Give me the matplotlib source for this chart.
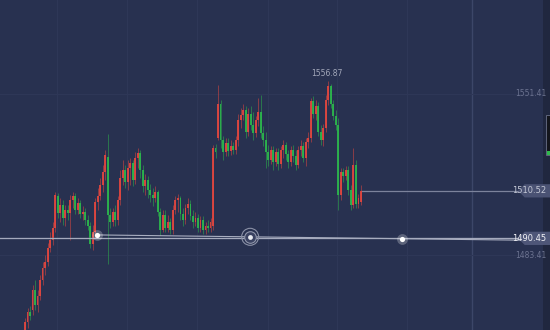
import matplotlib.pyplot as plt
from matplotlib.patches import Polygon, Rectangle
import numpy as np

# candle data (price), one entry per bar
opens = [1451.7, 1455.1, 1459.3, 1460.2, 1468.6, 1462.3, 1466.1, 1472.9, 1477.9, 1480.5,
         1486.4, 1489.8, 1494.8, 1508.3, 1501.1, 1504.5, 1499.0, 1502.4, 1501.1, 1506.6,
         1508.3, 1502.4, 1505.4, 1500.7, 1501.6, 1498.2, 1495.7, 1488.1, 1493.1, 1505.8,
         1508.3, 1513.0, 1518.5, 1524.8, 1500.3, 1497.4, 1501.6, 1498.2, 1506.6, 1515.9,
         1519.3, 1514.2, 1520.2, 1522.3, 1515.1, 1524.4, 1526.5, 1519.3, 1512.5, 1515.1,
         1510.9, 1508.8, 1507.5, 1510.0, 1501.6, 1494.0, 1500.3, 1494.8, 1497.4, 1494.0,
         1502.4, 1506.6, 1507.5, 1500.7, 1498.2, 1503.3, 1504.9, 1499.9, 1497.4, 1499.0,
         1494.8, 1498.2, 1494.0, 1495.7, 1494.8, 1495.7, 1528.6, 1532.8, 1547.2, 1532.0,
         1526.9, 1530.7, 1527.3, 1529.5, 1527.8, 1532.0, 1540.4, 1542.5, 1544.6, 1535.4,
         1543.0, 1538.3, 1534.9, 1540.4, 1543.8, 1534.9, 1532.0, 1526.9, 1523.5, 1527.8,
         1522.7, 1526.9, 1521.9, 1527.8, 1529.9, 1526.1, 1522.7, 1527.8, 1525.2, 1521.4,
         1527.8, 1529.5, 1524.4, 1531.1, 1532.8, 1548.5, 1543.0, 1546.3, 1535.4, 1532.0,
         1537.0, 1548.9, 1554.8, 1547.2, 1542.1, 1538.3, 1508.8, 1518.5, 1516.8, 1519.3,
         1510.9, 1504.5, 1521.4, 1504.9, 1505.8]
highs = [1456.8, 1461.0, 1461.9, 1470.7, 1472.9, 1468.6, 1475.0, 1480.5, 1483.4, 1488.5,
         1493.1, 1497.4, 1510.0, 1509.6, 1507.5, 1506.6, 1504.5, 1504.5, 1508.8, 1510.0,
         1509.6, 1507.5, 1506.6, 1504.1, 1503.3, 1500.3, 1497.4, 1496.1, 1507.5, 1511.7,
         1515.9, 1521.4, 1527.8, 1534.5, 1503.3, 1503.3, 1504.5, 1508.3, 1519.3, 1523.5,
         1521.4, 1523.5, 1524.4, 1523.5, 1526.9, 1528.6, 1527.8, 1521.4, 1517.6, 1516.8,
         1513.4, 1511.7, 1512.5, 1510.9, 1503.3, 1502.4, 1502.4, 1500.3, 1499.0, 1504.5,
         1508.3, 1509.2, 1508.3, 1503.3, 1504.9, 1507.5, 1506.6, 1502.4, 1501.6, 1500.7,
         1499.9, 1499.9, 1497.4, 1498.2, 1499.0, 1529.9, 1530.3, 1555.2, 1548.9, 1533.7,
         1532.8, 1532.8, 1532.0, 1531.1, 1533.7, 1542.9, 1545.5, 1547.2, 1546.3, 1545.5,
         1546.3, 1543.8, 1542.1, 1549.7, 1551.0, 1537.9, 1535.4, 1529.9, 1529.5, 1529.5,
         1528.6, 1528.6, 1529.5, 1532.0, 1531.1, 1527.8, 1529.5, 1529.9, 1527.8, 1529.5,
         1532.0, 1531.1, 1532.8, 1535.4, 1549.7, 1550.6, 1548.9, 1548.0, 1538.3, 1538.7,
         1551.0, 1556.87, 1555.6, 1548.9, 1544.6, 1541.3, 1520.2, 1520.2, 1521.0, 1521.0,
         1513.0, 1528.6, 1523.5, 1509.2, 1513.0]
lows = [1449.6, 1452.6, 1456.0, 1458.1, 1460.2, 1459.3, 1464.4, 1470.7, 1475.0, 1478.8,
        1484.7, 1487.6, 1493.1, 1499.0, 1497.4, 1496.1, 1495.7, 1498.2, 1489.8, 1503.3,
        1500.7, 1500.7, 1499.0, 1498.2, 1496.1, 1494.0, 1486.4, 1485.5, 1490.6, 1502.4,
        1506.6, 1510.0, 1515.1, 1479.6, 1494.8, 1495.7, 1495.7, 1496.1, 1504.5, 1513.0,
        1511.7, 1510.9, 1513.0, 1512.5, 1513.4, 1520.2, 1515.9, 1510.0, 1508.8, 1507.5,
        1505.8, 1504.1, 1505.8, 1499.9, 1491.9, 1493.1, 1493.1, 1493.1, 1492.3, 1492.3,
        1500.7, 1501.6, 1498.2, 1495.7, 1496.5, 1500.7, 1498.2, 1494.8, 1495.7, 1493.1,
        1493.1, 1492.3, 1492.3, 1493.1, 1493.1, 1494.0, 1524.4, 1532.0, 1528.6, 1523.5,
        1525.2, 1525.2, 1525.6, 1526.1, 1526.1, 1529.5, 1537.0, 1540.4, 1532.8, 1533.7,
        1536.2, 1532.0, 1533.2, 1537.9, 1532.8, 1529.5, 1520.2, 1521.0, 1521.9, 1519.3,
        1521.0, 1519.3, 1520.2, 1524.4, 1523.5, 1520.2, 1521.0, 1522.7, 1519.3, 1520.2,
        1525.2, 1522.7, 1521.0, 1528.6, 1531.1, 1541.3, 1540.4, 1533.7, 1529.9, 1529.5,
        1535.4, 1546.8, 1545.5, 1540.4, 1536.2, 1502.4, 1506.6, 1514.2, 1515.1, 1508.8,
        1502.4, 1503.3, 1503.3, 1503.3, 1504.5]
closes = [1455.1, 1459.3, 1457.6, 1468.6, 1462.3, 1466.1, 1472.9, 1477.9, 1480.5, 1486.4,
          1489.8, 1494.8, 1508.8, 1501.1, 1504.5, 1499.0, 1502.4, 1501.1, 1506.6, 1508.3,
          1502.4, 1505.4, 1500.7, 1501.6, 1498.2, 1495.7, 1488.1, 1493.1, 1505.8, 1508.3,
          1513.0, 1518.5, 1525.6, 1500.3, 1497.4, 1501.6, 1498.2, 1506.6, 1515.9, 1519.3,
          1514.2, 1520.2, 1522.3, 1515.1, 1524.4, 1526.5, 1519.3, 1512.5, 1515.1, 1510.9,
          1508.8, 1507.5, 1510.0, 1501.6, 1494.0, 1500.3, 1494.8, 1497.4, 1494.0, 1502.4,
          1506.6, 1507.5, 1500.7, 1498.2, 1503.3, 1504.9, 1499.9, 1497.4, 1499.0, 1494.8,
          1498.2, 1494.0, 1495.7, 1494.8, 1497.4, 1528.6, 1526.9, 1547.2, 1532.0, 1526.9,
          1530.7, 1527.3, 1529.5, 1527.8, 1532.0, 1540.4, 1542.5, 1544.6, 1535.4, 1543.0,
          1538.3, 1534.9, 1540.4, 1543.8, 1534.9, 1532.0, 1526.9, 1523.5, 1527.8, 1522.7,
          1526.9, 1521.9, 1527.8, 1529.9, 1526.1, 1522.7, 1527.8, 1525.2, 1521.4, 1527.8,
          1529.5, 1524.4, 1531.1, 1532.8, 1548.5, 1543.0, 1546.3, 1535.4, 1532.0, 1537.0,
          1548.9, 1554.8, 1547.2, 1542.1, 1538.3, 1508.8, 1518.5, 1516.8, 1519.3, 1510.9,
          1504.5, 1521.4, 1504.9, 1507.5, 1510.52]

last_price = 1510.52
line_price = 1490.45
grid_prices = [1551.41, 1483.41]
high_label = 1556.87
# trend line anchors (bar index, price)
trend_x = [28.7, 89.8, 150.4]
trend_y = [1491.9, 1491.1, 1490.3]

bg = '#283150'
up_c = '#e5473f'
down_c = '#2cb84c'

fig = plt.figure(figsize=(5.5, 3.3), dpi=100)
fig.patch.set_facecolor(bg)
ax = fig.add_axes([0, 0, 1, 1])
ax.set_facecolor(bg)
ax.set_xlim(-9.97, 209.4)
ax.set_ylim(1451.75, 1591.1)
ax.axis('off')

fam = ['Liberation Sans Narrow', 'DejaVu Sans']

# grid
for gx in [57, 127, 197, 268, 337, 407]:
    ax.axvline(-9.97 + gx / 550 * 219.37, color='#2e3757', lw=0.8, zorder=0)
ax.axvline(-9.97 + 472 / 550 * 219.37, color='#3c4668', lw=1.0, zorder=0)
for gp in grid_prices:
    ax.axhline(gp, color='#2e3757', lw=0.8, zorder=0)

# right shadow
ax.add_patch(Rectangle((0.988, 0), 0.012, 1, transform=ax.transAxes,
                       color='#20273f', lw=0, zorder=0))

o = np.array(opens)
h = np.array(highs)
l = np.array(lows)
c = np.array(closes)
x = np.arange(len(c))
cols = [up_c if cc >= oo else down_c for oo, cc in zip(o, c)]
ax.vlines(x, l, h, colors=cols, lw=0.6, alpha=0.6, zorder=2)
body = np.abs(c - o)
body = np.where(body < 0.6, 0.6, body)
ax.bar(x, body, bottom=np.minimum(o, c), width=0.75, color=cols, alpha=0.9,
       lw=0, zorder=3)

# last price line
ax.plot([len(c) - 0.6, 197.5], [last_price, last_price], color='#7c839c', lw=0.9, zorder=2)

# horizontal line and trend line
ax.axhline(line_price, color='#6f7690', lw=1.8, alpha=0.35, zorder=4)
ax.axhline(line_price, color='#a9aec0', lw=0.7, zorder=4)
slope = (trend_y[-1] - trend_y[0]) / (trend_x[-1] - trend_x[0])
ax.plot([trend_x[0], 209.4], [trend_y[0], trend_y[0] + slope * (209.4 - trend_x[0])],
        color='#a9aec0', lw=0.8, zorder=4)
ax.scatter([trend_x[0], trend_x[2]], [trend_y[0], trend_y[2]], s=60, color='white',
           alpha=0.25, lw=0, zorder=5)
ax.scatter([trend_x[0], trend_x[2]], [trend_y[0], trend_y[2]], s=14, color='white',
           lw=0, zorder=6)
ax.scatter([trend_x[1]], [trend_y[1]], s=150, facecolor='none', edgecolor='#8a90a6',
           lw=0.8, zorder=5)
ax.scatter([trend_x[1]], [trend_y[1]], s=70, facecolor='#3a4262', edgecolor='#9096ab',
           lw=0.8, zorder=5)
ax.scatter([trend_x[1]], [trend_y[1]], s=12, color='#e8eaf0', lw=0, zorder=6)

# high label
ih = int(np.argmax(h))
ax.text(ih - 0.5, high_label + 1.1, '%.2f' % high_label, color='#a3a8ba', fontsize=5.5,
        family=fam, ha='center', va='bottom', zorder=6)

# right axis labels
for gp in grid_prices:
    ax.text(0.993, gp, '%.2f' % gp, color='#6c7390', fontsize=5.5, family=fam,
            ha='right', va='center', transform=ax.get_yaxis_transform(), zorder=6)


def tag(price, fill, tcol):
    t = ax.get_yaxis_transform()
    hh = 2.8
    pts = [(0.942, price), (0.954, price + hh), (1.0, price + hh), (1.0, price - hh),
           (0.954, price - hh)]
    ax.add_patch(Polygon(pts, closed=True, transform=t, facecolor=fill, lw=0, zorder=5))
    ax.text(0.993, price, '%.2f' % price, color=tcol, fontsize=6, family=fam,
            ha='right', va='center', transform=t, zorder=7)


tag(last_price, '#4a5273', '#c4c8d6')
tag(line_price, '#4e5678', '#f2f3f7')

# scroll widget on right edge
ax.add_patch(Rectangle((546 / 550, 1 - 155 / 330), 4 / 550, 40 / 330, transform=ax.transAxes,
                       facecolor='#14161d', edgecolor='#6a7088', lw=0.6, zorder=6))
ax.add_patch(Rectangle((546.5 / 550, 1 - 155 / 330), 3 / 550, 4 / 330, transform=ax.transAxes,
                       facecolor='#2eb84c', lw=0, zorder=7))

fig.savefig('out.png', dpi=100, facecolor=bg)
